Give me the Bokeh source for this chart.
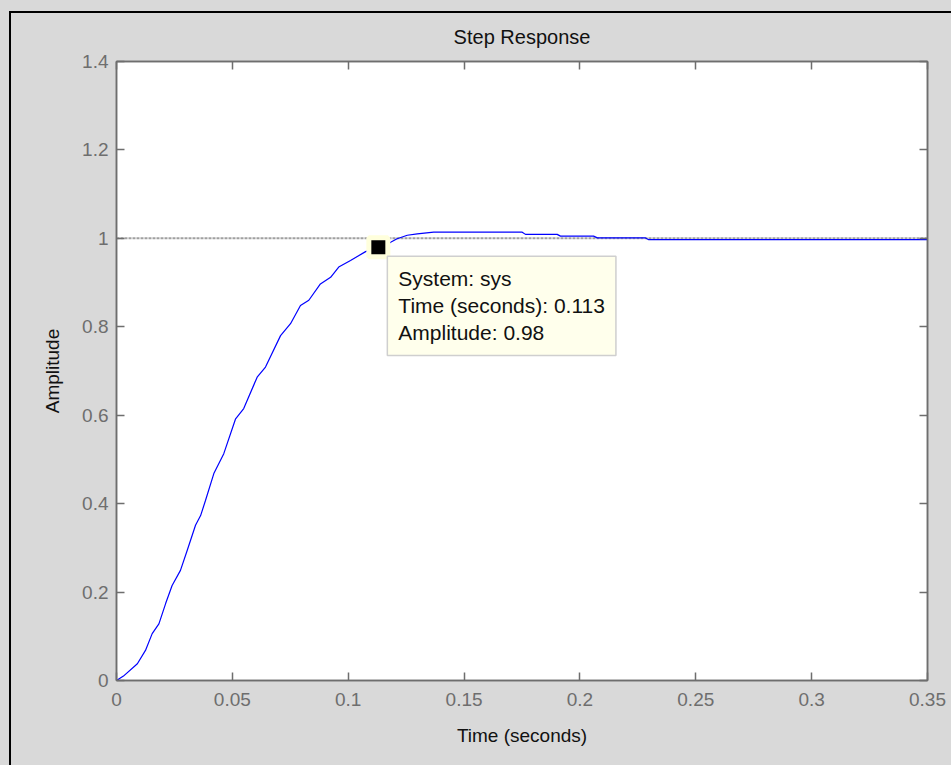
from bokeh.plotting import figure
from bokeh.models import Range1d, FixedTicker, LinearAxis, Label, ColumnDataSource
from bokeh.embed import file_html
from bokeh.resources import INLINE

# ---- data ----
time_s = [0, 0.003, 0.009, 0.0125, 0.0154, 0.0183, 0.0212, 0.024, 0.0276, 0.0305,
          0.0341, 0.0363, 0.0384, 0.042, 0.0463, 0.0514, 0.0549, 0.0607, 0.0643, 0.0708,
          0.0751, 0.0794, 0.083, 0.088, 0.0924, 0.0959, 0.101, 0.1075, 0.113, 0.1183,
          0.1211, 0.1255, 0.1298, 0.1369, 0.1751, 0.1765, 0.1902, 0.1916, 0.2059, 0.2075,
          0.2283, 0.2297, 0.35]
amplitude = [0, 0.010, 0.038, 0.068, 0.106, 0.128, 0.174, 0.215, 0.249, 0.294,
             0.351, 0.373, 0.407, 0.468, 0.513, 0.592, 0.615, 0.686, 0.709, 0.780,
             0.807, 0.848, 0.860, 0.897, 0.912, 0.935, 0.950, 0.970, 0.980, 0.991,
             0.999, 1.007, 1.010, 1.014, 1.014, 1.009, 1.009, 1.005, 1.005, 1.001,
             1.001, 0.997, 0.997]
final_value = [1.0, 1.0]
final_span = [0, 0.35]
marker_time = [0.113]
marker_amp = [0.98]
x_ticks = [0, 0.05, 0.1, 0.15, 0.2, 0.25, 0.3, 0.35]
x_tick_labels = ["0", "0.05", "0.1", "0.15", "0.2", "0.25", "0.3", "0.35"]
y_ticks = [0, 0.2, 0.4, 0.6, 0.8, 1.0, 1.2, 1.4]
y_tick_labels = ["0", "0.2", "0.4", "0.6", "0.8", "1", "1.2", "1.4"]
tip_text = "System: sys\nTime (seconds): 0.113\nAmplitude: 0.98"

FONT = "Liberation Sans"
AX = "#6e6e6e"

p = figure(width=951, height=765, output_backend="svg", toolbar_location=None,
           x_range=Range1d(0, 0.35), y_range=Range1d(0, 1.4),
           min_border_left=116, min_border_right=24, min_border_top=61, min_border_bottom=85,
           title="Step Response")
# transparent canvas border; gray page-like backdrop with the black window edge via CSS
p.border_fill_color = None
p.styles = {
    "background": "linear-gradient(#000, #000) 9px 11px / 2px 100% no-repeat, "
                  "linear-gradient(#000, #000) 9px 11px / 100% 2px no-repeat, #d9d9d9",
}
p.background_fill_color = "white"
p.outline_line_color = AX
p.outline_line_width = 1.5
p.grid.visible = False

p.title.text_font = FONT
p.title.text_font_size = "20px"
p.title.text_font_style = "normal"
p.title.text_color = "#111111"
p.title.align = "center"
p.title.standoff = 27

def style_axis(ax, ticks, labels, show_labels):
    ax.ticker = FixedTicker(ticks=ticks)
    ax.major_label_overrides = {t: l for t, l in zip(ticks, labels)}
    ax.major_tick_in = 8
    ax.major_tick_out = 0
    ax.minor_tick_line_color = None
    ax.axis_line_color = AX
    ax.axis_line_width = 1.5
    ax.major_tick_line_color = AX
    ax.major_tick_line_width = 1.5
    ax.major_label_text_font = FONT
    ax.major_label_text_font_size = "19px"
    ax.major_label_text_color = AX if show_labels else None
    ax.axis_label_text_font = FONT
    ax.axis_label_text_font_size = "19px"
    ax.axis_label_text_font_style = "normal"
    ax.axis_label_text_color = "#111111"

style_axis(p.xaxis[0], x_ticks, x_tick_labels, True)
style_axis(p.yaxis[0], y_ticks, y_tick_labels, True)
p.xaxis[0].axis_label = "Time (seconds)"
p.yaxis[0].axis_label = "Amplitude"
p.xaxis[0].major_label_standoff = 12
p.xaxis[0].axis_label_standoff = 16
p.yaxis[0].major_label_standoff = 8
p.yaxis[0].axis_label_standoff = 16

top_ax = LinearAxis()
right_ax = LinearAxis()
style_axis(top_ax, x_ticks, x_tick_labels, False)
style_axis(right_ax, y_ticks, y_tick_labels, False)
top_ax.major_label_text_font_size = "0px"
right_ax.major_label_text_font_size = "0px"
top_ax.major_label_standoff = 0
right_ax.major_label_standoff = 0
p.add_layout(top_ax, "above")
p.add_layout(right_ax, "right")

# final value reference line
p.line(final_span, final_value, line_color="#a0a0a0", line_width=2, line_dash="3 1")

# step response
src = ColumnDataSource(dict(t=time_s, a=amplitude))
p.line("t", "a", source=src, line_color="#0000ff", line_width=1.2)

# data tip marker
p.scatter(marker_time, marker_amp, marker="square", size=19, fill_color="black",
          line_color="#ffffdc", line_width=5)

tip = Label(x=marker_time[0], y=marker_amp[0], x_offset=9, y_offset=-9,
            text=tip_text, text_font=FONT, text_font_size="21px", text_color="#111111",
            text_align="left", text_baseline="top", text_line_height=1.18,
            background_fill_color="#ffffec", border_line_color="#cfcfcf", border_line_width=1.5,
            padding=11)
p.add_layout(tip)

open("out.html", "w").write(file_html(p, INLINE))
